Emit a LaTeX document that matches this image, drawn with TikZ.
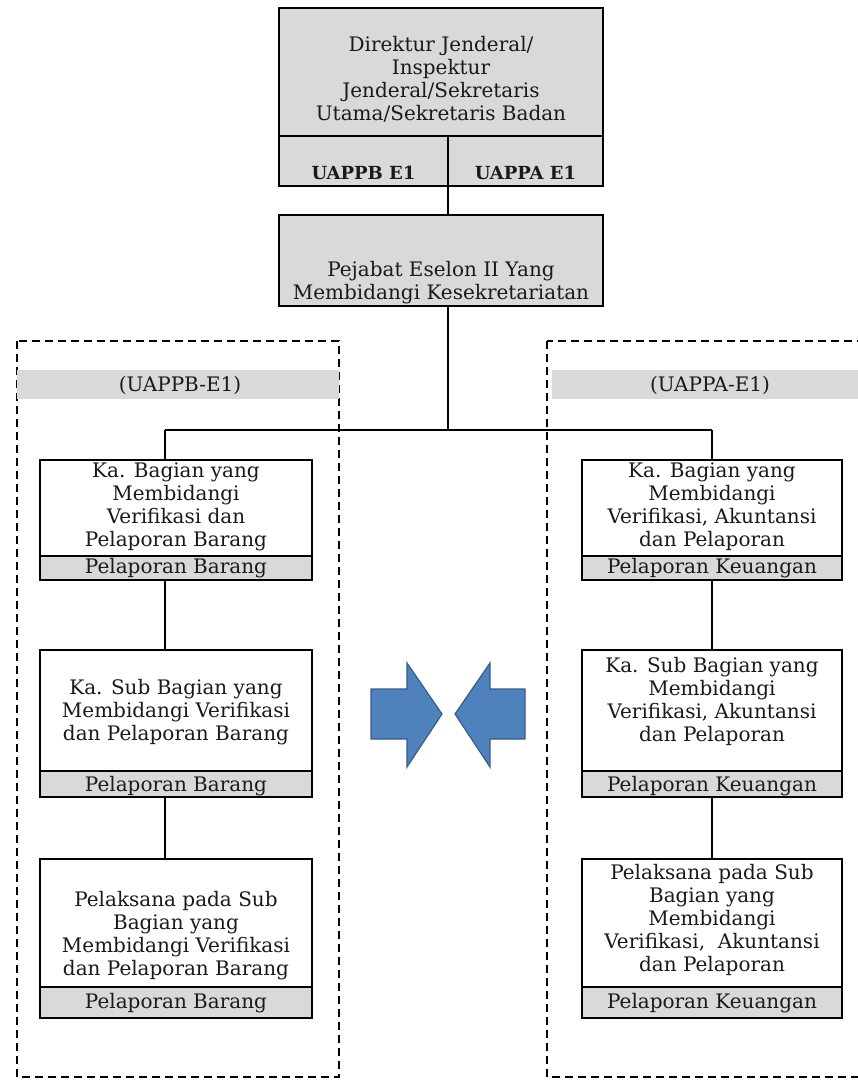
\documentclass[tikz,border=0pt]{standalone}
\usepackage{fontspec}
\setmainfont{DejaVu Serif}
\definecolor{boxgray}{HTML}{D9D9D9}
\definecolor{ink}{HTML}{1A1A1A}
\definecolor{arrowblue}{HTML}{4F81BD}
\definecolor{arrowedge}{HTML}{385D8A}
\begin{document}
\begin{tikzpicture}[x=1pt,y=-1pt,
  box/.style={draw=black, line width=1.2pt, inner sep=0pt, fill=white},
  graybox/.style={box, fill=boxgray},
  txt/.style={align=center, font=\fontsize{20}{23}\selectfont, text=ink, inner sep=0pt},
  tag/.style={font=\fontsize{18}{20}\selectfont\bfseries, text=ink, inner sep=0pt},
  frame/.style={draw=black, line width=1.3pt, dash pattern=on 8pt off 5pt},
  band/.style={fill=boxgray, draw=none, inner sep=0pt},
  link/.style={draw=black, line width=1.3pt},
  bigarrow/.style={fill=arrowblue, draw=arrowedge, line width=1.2pt, line join=miter}]
\useasboundingbox (0,0) rectangle (858,1082);
\clip (0,0) rectangle (858,1082);
\fill[white] (0,0) rectangle (858,1082);

% dashed group frames
\draw[frame] (17,341) rectangle (339,1077);
\draw[frame] (547,341) rectangle (880,1077);
\node[band, minimum width=322pt, minimum height=29pt] (bandL) at (178,384.5) {};
\node[txt] (bandLT) at (180,385) {(UAPPB-E1)};
\node[band, minimum width=310pt, minimum height=29pt] (bandR) at (707,384.5) {};
\node[txt] (bandRT) at (710,385) {(UAPPA-E1)};

% top level
\node[graybox, minimum width=324pt, minimum height=128pt] (dirjen) at (441,72) {};
\node[txt] (dirjenT) at (441,79) {Direktur Jenderal/\\Inspektur\\Jenderal/Sekretaris\\Utama/Sekretaris Badan};
\node[graybox, minimum width=169pt, minimum height=50pt] (uappb) at (363.5,161) {};
\node[tag] (uappbT) at (363.5,173) {UAPPB E1};
\node[graybox, minimum width=155pt, minimum height=50pt] (uappa) at (525.5,161) {};
\node[tag] (uappaT) at (525.5,173) {UAPPA E1};

\node[graybox, minimum width=324pt, minimum height=91pt] (pejabat) at (441,260.5) {};
\node[txt] (pejabatT) at (441,283) {Pejabat Eselon II Yang\\Membidangi Kesekretariatan};

% left column (UAPPB-E1)
\node[box, minimum width=272pt, minimum height=96pt] (lA) at (176,508) {};
\node[txt] (lAT) at (176,507) {Ka. Bagian yang\\Membidangi\\Verifikasi dan\\Pelaporan Barang};
\node[graybox, minimum width=272pt, minimum height=24pt] (lAs) at (176,568) {};
\node[txt] (lAsT) at (176,568) {Pelaporan Barang};

\node[box, minimum width=272pt, minimum height=121pt] (lB) at (176,710.5) {};
\node[txt] (lBT) at (176,712) {Ka. Sub Bagian yang\\Membidangi Verifikasi\\dan Pelaporan Barang};
\node[graybox, minimum width=272pt, minimum height=26pt] (lBs) at (176,784) {};
\node[txt] (lBsT) at (176,786) {Pelaporan Barang};

\node[box, minimum width=272pt, minimum height=128pt] (lC) at (176,923) {};
\node[txt] (lCT) at (176,935.5) {Pelaksana pada Sub\\Bagian yang\\Membidangi Verifikasi\\dan Pelaporan Barang};
\node[graybox, minimum width=272pt, minimum height=31pt] (lCs) at (176,1002.5) {};
\node[txt] (lCsT) at (176,1003) {Pelaporan Barang};

% right column (UAPPA-E1)
\node[box, minimum width=260pt, minimum height=96pt] (rA) at (712,508) {};
\node[txt] (rAT) at (712,507) {Ka. Bagian yang\\Membidangi\\Verifikasi, Akuntansi\\dan Pelaporan};
\node[graybox, minimum width=260pt, minimum height=24pt] (rAs) at (712,568) {};
\node[txt] (rAsT) at (712,568) {Pelaporan Keuangan};

\node[box, minimum width=260pt, minimum height=121pt] (rB) at (712,710.5) {};
\node[txt] (rBT) at (712,701) {Ka. Sub Bagian yang\\Membidangi\\Verifikasi, Akuntansi\\dan Pelaporan};
\node[graybox, minimum width=260pt, minimum height=26pt] (rBs) at (712,784) {};
\node[txt] (rBsT) at (712,786) {Pelaporan Keuangan};

\node[box, minimum width=260pt, minimum height=128pt] (rC) at (712,923) {};
\node[txt] (rCT) at (712,920) {Pelaksana pada Sub\\Bagian yang\\Membidangi\\Verifikasi,~~Akuntansi\\dan Pelaporan};
\node[graybox, minimum width=260pt, minimum height=31pt] (rCs) at (712,1002.5) {};
\node[txt] (rCsT) at (712,1003) {Pelaporan Keuangan};

% connectors
\coordinate (junction) at (448,430);
\coordinate (bl) at (165,430);
\coordinate (br) at (712,430);
\draw[link] (junction |- uappb.south) -- (junction |- pejabat.north);
\draw[link] (pejabat.south -| junction) -- (junction);
\draw[link] (bl) -- (br);
\draw[link] (bl) -- (bl |- lA.north);
\draw[link] (br) -- (br |- rA.north);
\draw[link] (lAs.south -| bl) -- (lB.north -| bl);
\draw[link] (lBs.south -| bl) -- (lC.north -| bl);
\draw[link] (rAs.south -| br) -- (rB.north -| br);
\draw[link] (rBs.south -| br) -- (rC.north -| br);

% block arrows pointing at each other
\draw[bigarrow] (371,689) -- (407,689) -- (407,663) -- (442,714) -- (407,767) -- (407,739) -- (371,739) -- cycle;
\draw[bigarrow] (525,689) -- (490,689) -- (490,663) -- (455,714) -- (490,767) -- (490,739) -- (525,739) -- cycle;
\end{tikzpicture}
\end{document}
